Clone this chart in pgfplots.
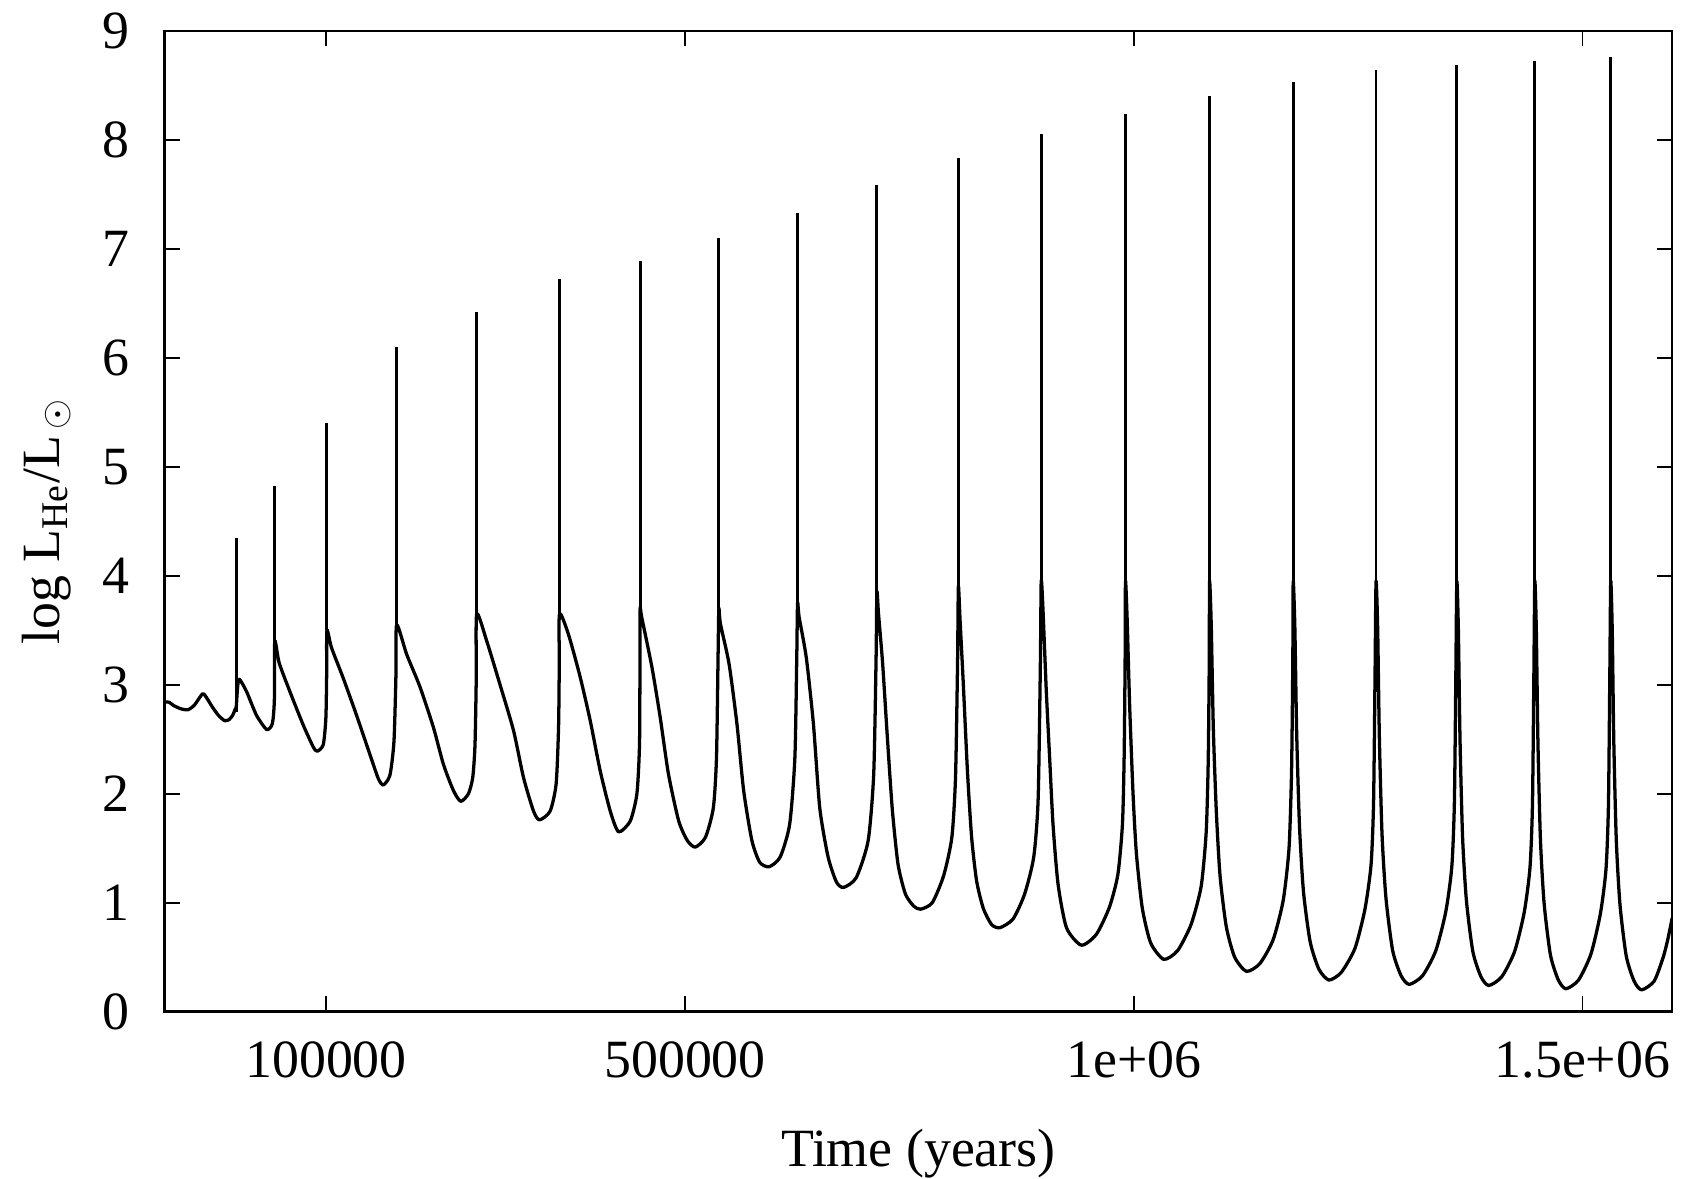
\documentclass[border=0pt]{standalone}
\usepackage{fontspec}
\setmainfont{Liberation Serif}
\usepackage{pgfplots}
\pgfplotsset{compat=1.18}
\usepackage{pgfplotstable}

% helium-burning luminosity between the pulses (smooth part)
\pgfplotstableread{
t lhe
-80000 2.84
-75000 2.84
-70000 2.81
-62000 2.78
-54000 2.77
-47000 2.81
-41000 2.88
-37000 2.92
-33000 2.88
-27000 2.80
-20000 2.72
-13000 2.67
-8000 2.68
-4000 2.72
-1000 2.78
0 2.80
1500 2.98
3500 3.05
11300 2.94
22500 2.72
33600 2.59
39200 2.62
41100 2.69
42500 2.88
42900 3.40
47800 3.20
59600 2.94
74600 2.63
85700 2.43
90200 2.39
96900 2.45
99800 2.69
100700 3.09
101000 3.50
106100 3.34
119200 3.06
134000 2.72
148900 2.36
158200 2.14
163800 2.08
171200 2.17
175700 2.48
177900 3.09
178700 3.55
189800 3.28
204700 2.98
219600 2.61
230800 2.27
241900 2.03
250100 1.93
258700 2.00
263500 2.15
266000 2.45
267400 3.07
267900 3.65
279100 3.40
293900 3.00
308900 2.58
320000 2.15
331200 1.84
337900 1.76
349700 1.84
356400 2.09
359100 2.61
359900 3.20
360200 3.65
370200 3.46
383200 3.07
394400 2.67
405500 2.21
416700 1.84
426000 1.65
439000 1.75
446400 2.00
449300 2.45
449800 3.20
450000 3.70
451750 3.62
463160 3.16
472360 2.70
481570 2.18
492970 1.75
502620 1.57
511390 1.51
522790 1.60
531560 1.87
535070 2.33
536820 3.25
537700 3.70
539450 3.56
549100 3.19
557870 2.64
565330 2.03
574530 1.57
583300 1.37
593830 1.33
606110 1.42
616630 1.72
622420 2.33
624520 3.25
625400 3.75
627170 3.62
635120 3.25
643080 2.64
650150 1.87
659430 1.42
668720 1.19
676670 1.14
690820 1.23
704080 1.57
710260 2.18
712920 3.25
713800 3.85
715620 3.65
720160 3.20
725600 2.50
731050 1.85
737410 1.35
745580 1.08
754660 0.97
762380 0.94
775540 1.00
788260 1.25
797340 1.60
801420 2.15
803690 3.20
804600 3.90
806450 3.60
810140 3.00
814750 2.20
819370 1.60
824910 1.20
832290 0.95
841520 0.80
850750 0.77
865520 0.85
878440 1.08
888590 1.42
893480 1.95
895980 3.20
896900 3.95
898780 3.71
902530 2.95
906290 2.33
910050 1.72
915680 1.17
925070 0.77
941600 0.61
958400 0.71
972960 0.96
982350 1.26
987420 1.72
989300 2.33
990420 3.25
990800 3.95
992670 3.60
995490 2.80
999230 2.00
1002980 1.45
1009540 0.95
1018910 0.63
1033430 0.48
1048890 0.56
1063890 0.80
1075130 1.15
1080750 1.65
1083000 2.30
1084130 3.20
1084500 3.95
1086360 3.55
1088690 2.60
1091960 1.85
1096150 1.25
1103140 0.78
1112460 0.50
1125510 0.37
1140420 0.44
1155330 0.66
1166520 1.02
1173040 1.50
1175840 2.20
1177230 3.20
1177700 3.95
1179550 3.52
1181580 2.55
1184710 1.70
1189150 1.10
1196620 0.64
1206310 0.39
1217390 0.29
1231230 0.36
1246460 0.58
1257630 0.94
1264460 1.35
1267230 1.92
1268890 3.10
1270000 3.95
1271800 3.52
1273690 2.52
1276660 1.63
1281070 1.04
1288540 0.56
1297900 0.33
1306900 0.25
1321840 0.33
1336600 0.56
1347760 0.92
1354420 1.33
1357300 1.92
1358920 3.10
1360000 3.95
1361740 3.50
1363560 2.50
1366430 1.60
1370690 1.02
1377900 0.55
1386940 0.32
1395630 0.24
1410050 0.32
1424310 0.55
1435080 0.91
1441510 1.32
1444290 1.90
1445860 3.10
1446900 3.95
1448590 3.50
1450370 2.48
1453160 1.58
1457310 0.99
1464330 0.52
1473130 0.29
1481590 0.21
1495630 0.29
1509500 0.53
1520000 0.90
1526250 1.31
1528960 1.90
1530480 3.10
1531500 3.95
1533180 3.50
1534940 2.47
1537720 1.57
1541830 0.98
1548800 0.51
1557540 0.28
1565940 0.20
1579880 0.28
1590000 0.50
1595000 0.66
1600000 0.86
}\lhecurve

% the pulses themselves: base and peak of each flash
\pgfplotstableread{
t lhe
0 2.75
0 4.35
nan nan
42900 3.40
42900 4.82
nan nan
101000 3.50
101000 5.40
nan nan
178700 3.55
178700 6.10
nan nan
267900 3.65
267900 6.42
nan nan
360200 3.65
360200 6.72
nan nan
450000 3.70
450000 6.89
nan nan
537700 3.70
537700 7.10
nan nan
625400 3.75
625400 7.33
nan nan
713800 3.85
713800 7.59
nan nan
804600 3.90
804600 7.83
nan nan
896900 3.95
896900 8.05
nan nan
990800 3.95
990800 8.24
nan nan
1084500 3.95
1084500 8.40
nan nan
1177700 3.95
1177700 8.53
nan nan
1270000 3.95
1270000 8.64
nan nan
1360000 3.95
1360000 8.69
nan nan
1446900 3.95
1446900 8.72
nan nan
1531500 3.95
1531500 8.76
}\lhepeaks

\begin{document}
\begin{tikzpicture}
\begin{axis}[
    scale only axis,
    width=392pt,
    height=255pt,
    xmin=-80000, xmax=1600000,
    ymin=0, ymax=9,
    scaled x ticks=false,
    xtick={100000,500000,1000000,1500000},
    xticklabels={100000,500000,1e+06,1.5e+06},
    ytick={0,1,...,9},
    tick align=inside,
    major tick length=4pt,
    tick style={black, line width=0.5pt},
    axis line style={line width=0.6pt},
    /pgf/number format/assume math mode=true,
    tick label style={font=\fontsize{14}{17}\selectfont},
    label style={font=\fontsize{14}{17}\selectfont},
    xticklabel style={yshift=-4.3pt},
    yticklabel style={xshift=-5.5pt},
    xlabel style={inner ysep=0pt},
    xlabel shift=9.7pt,
    ylabel shift=1.5pt,
    xlabel={Time (years)},
    ylabel={log L\textsubscript{He}/L\textsubscript{\,$\odot$}},
]
\addplot[black, line width=0.85pt, line join=round, smooth, tension=0.4]
    table[x=t, y=lhe] {\lhecurve};
\addplot[black, line width=0.75pt, unbounded coords=jump]
    table[x=t, y=lhe] {\lhepeaks};
\end{axis}
\path ([xshift=-2.3pt]current bounding box.west);
\end{tikzpicture}
\end{document}
